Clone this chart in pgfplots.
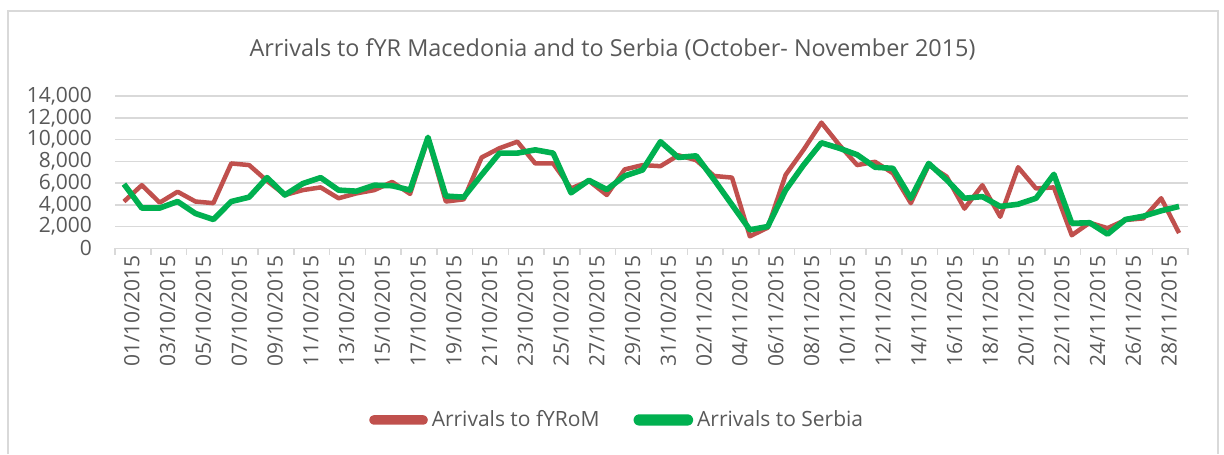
\documentclass[border=0pt]{standalone}
\usepackage{fontspec}
\setmainfont{Open Sans}
\usepackage{pgfplots}
\usepackage{pgfplotstable}
\pgfplotsset{compat=1.18}

\definecolor{colMK}{RGB}{192,80,77}
\definecolor{colRS}{RGB}{0,176,80}
\definecolor{txtgray}{RGB}{89,89,89}
\definecolor{gridgray}{RGB}{217,217,217}

% daily arrivals, 01/10/2015 .. 29/11/2015
\pgfplotstableread{
idx mk    rs
0   4300  5900
1   5800  3700
2   4200  3700
3   5200  4300
4   4300  3200
5   4150  2650
6   7800  4300
7   7650  4700
8   6200  6500
9   4900  4900
10  5350  5950
11  5600  6500
12  4600  5350
13  5050  5250
14  5350  5800
15  6100  5750
16  5000  5350
17  10100 10200
18  4300  4800
19  4500  4700
20  8350  6750
21  9200  8750
22  9800  8750
23  7800  9050
24  7800  8750
25  5500  5100
26  6200  6250
27  4900  5400
28  7250  6650
29  7650  7200
30  7550  9800
31  8550  8350
32  8100  8500
33  6650  6300
34  6500  4000
35  1100  1700
36  1900  2000
37  6750  5350
38  9050  7650
39  11550 9700
40  9500  9200
41  7650  8600
42  7950  7450
43  6900  7350
44  4150  4600
45  7650  7800
46  6600  6300
47  3650  4600
48  5800  4750
49  2900  3850
50  7450  4050
51  5500  4600
52  5600  6800
53  1200  2300
54  2350  2350
55  1850  1300
56  2600  2650
57  2750  2950
58  4600  3450
59  1400  3850
}\arrivals

\begin{document}
\begin{tikzpicture}[x=1pt,y=1pt]
% chart frame
\fill[white] (0,0) rectangle (612,225);
\draw[gridgray, line width=0.8pt] (4,-2) -- (4,219.5) -- (609,219.5) -- (609,-2);

\node[anchor=base, font=\fontsize{11.7}{14}\selectfont, text=txtgray]
  at (306.25,196.6) {Arrivals to fYR Macedonia and to Serbia (October- November 2015)};

\begin{axis}[
    at={(57.5pt,100.85pt)}, anchor=south west,
    scale only axis,
    width=536.5pt, height=76.15pt,
    xmin=-0.5, xmax=59.5,
    ymin=0, ymax=14000,
    axis x line*=bottom,
    axis y line*=left,
    y axis line style={draw=none},
    x axis line style={gridgray, line width=0.75pt},
    ytick={0,2000,...,14000},
    scaled y ticks=false,
    ytick style={draw=none},
    ymajorgrids=true,
    grid style={gridgray, line width=0.75pt},
    xtick={0,2,...,58},
    xticklabels={01/10/2015,03/10/2015,05/10/2015,07/10/2015,09/10/2015,
      11/10/2015,13/10/2015,15/10/2015,17/10/2015,19/10/2015,21/10/2015,
      23/10/2015,25/10/2015,27/10/2015,29/10/2015,31/10/2015,02/11/2015,
      04/11/2015,06/11/2015,08/11/2015,10/11/2015,12/11/2015,14/11/2015,
      16/11/2015,18/11/2015,20/11/2015,22/11/2015,24/11/2015,26/11/2015,
      28/11/2015},
    xtick style={draw=none},
    extra x ticks={-0.5,1.5,...,59.5},
    extra x tick labels={},
    extra x tick style={xtick style={gridgray, line width=0.75pt, draw=gridgray},
        major tick length=3.2pt, tick align=outside},
    x tick label style={rotate=90, anchor=east, font=\fontsize{10.5}{12}\selectfont,
        text=txtgray, yshift=-4pt},
    y tick label style={font=\fontsize{10.5}{11}\selectfont, text=txtgray, xshift=-8pt},
    /pgf/number format/.cd, 1000 sep={,}, assume math mode=true,
    /pgfplots/.cd,
    legend columns=2,
    legend style={at={(0.469,-1.127)}, anchor=center, draw=none, fill=none,
        font=\fontsize{10.5}{12}\selectfont, text=txtgray,
        /tikz/every even column/.append style={column sep=15pt}},
]
\addplot[colMK, line width=2.25pt, line join=round,
    legend image code/.code={\fill[colMK, rounded corners=1.2pt] (0pt,-1.25pt) rectangle (27pt,1.25pt);}]
    table[x=idx, y=mk] {\arrivals};
\addlegendentry{Arrivals to fYRoM}
\addplot[colRS, line width=2.8pt, line join=round,
    legend image code/.code={\fill[colRS, rounded corners=1.3pt] (0pt,-1.4pt) rectangle (27pt,1.4pt);}]
    table[x=idx, y=rs] {\arrivals};
\addlegendentry{Arrivals to Serbia}
\end{axis}
\end{tikzpicture}
\end{document}
